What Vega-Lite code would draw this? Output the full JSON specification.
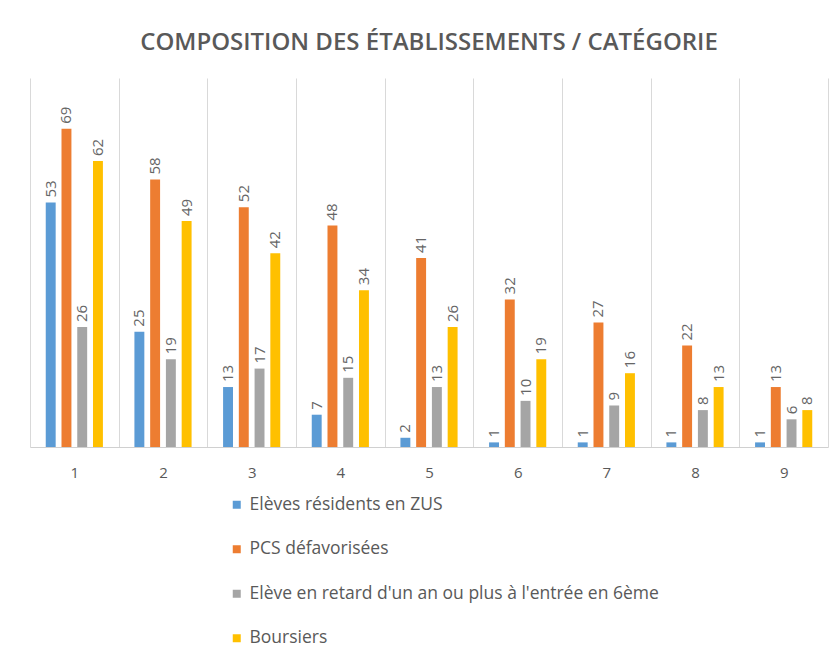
{
  "$schema": "https://vega.github.io/schema/vega-lite/v6.json",
  "autosize": {"type": "none"},
  "width": 798,
  "height": 369,
  "padding": {"left": 30, "top": 78, "right": 7, "bottom": 203},
  "background": "white",
  "title": {
    "text": "COMPOSITION DES ÉTABLISSEMENTS / CATÉGORIE",
    "font": "Open Sans",
    "fontSize": 24,
    "fontWeight": 600,
    "color": "#595959",
    "anchor": "middle",
    "offset": 23
  },
  "data": {
    "values": [
      {"cat": "1", "serie": "Elèves résidents en ZUS", "v": 53},
      {"cat": "1", "serie": "PCS défavorisées", "v": 69},
      {"cat": "1", "serie": "Elève en retard d'un an ou plus à l'entrée en 6ème", "v": 26},
      {"cat": "1", "serie": "Boursiers", "v": 62},
      {"cat": "2", "serie": "Elèves résidents en ZUS", "v": 25},
      {"cat": "2", "serie": "PCS défavorisées", "v": 58},
      {"cat": "2", "serie": "Elève en retard d'un an ou plus à l'entrée en 6ème", "v": 19},
      {"cat": "2", "serie": "Boursiers", "v": 49},
      {"cat": "3", "serie": "Elèves résidents en ZUS", "v": 13},
      {"cat": "3", "serie": "PCS défavorisées", "v": 52},
      {"cat": "3", "serie": "Elève en retard d'un an ou plus à l'entrée en 6ème", "v": 17},
      {"cat": "3", "serie": "Boursiers", "v": 42},
      {"cat": "4", "serie": "Elèves résidents en ZUS", "v": 7},
      {"cat": "4", "serie": "PCS défavorisées", "v": 48},
      {"cat": "4", "serie": "Elève en retard d'un an ou plus à l'entrée en 6ème", "v": 15},
      {"cat": "4", "serie": "Boursiers", "v": 34},
      {"cat": "5", "serie": "Elèves résidents en ZUS", "v": 2},
      {"cat": "5", "serie": "PCS défavorisées", "v": 41},
      {"cat": "5", "serie": "Elève en retard d'un an ou plus à l'entrée en 6ème", "v": 13},
      {"cat": "5", "serie": "Boursiers", "v": 26},
      {"cat": "6", "serie": "Elèves résidents en ZUS", "v": 1},
      {"cat": "6", "serie": "PCS défavorisées", "v": 32},
      {"cat": "6", "serie": "Elève en retard d'un an ou plus à l'entrée en 6ème", "v": 10},
      {"cat": "6", "serie": "Boursiers", "v": 19},
      {"cat": "7", "serie": "Elèves résidents en ZUS", "v": 1},
      {"cat": "7", "serie": "PCS défavorisées", "v": 27},
      {"cat": "7", "serie": "Elève en retard d'un an ou plus à l'entrée en 6ème", "v": 9},
      {"cat": "7", "serie": "Boursiers", "v": 16},
      {"cat": "8", "serie": "Elèves résidents en ZUS", "v": 1},
      {"cat": "8", "serie": "PCS défavorisées", "v": 22},
      {"cat": "8", "serie": "Elève en retard d'un an ou plus à l'entrée en 6ème", "v": 8},
      {"cat": "8", "serie": "Boursiers", "v": 13},
      {"cat": "9", "serie": "Elèves résidents en ZUS", "v": 1},
      {"cat": "9", "serie": "PCS défavorisées", "v": 13},
      {"cat": "9", "serie": "Elève en retard d'un an ou plus à l'entrée en 6ème", "v": 6},
      {"cat": "9", "serie": "Boursiers", "v": 8}
    ]
  },
  "encoding": {
    "x": {
      "field": "cat",
      "type": "nominal",
      "scale": {"paddingInner": 0, "paddingOuter": 0},
      "axis": {
        "title": null,
        "labelAngle": 0,
        "labelFont": "Open Sans",
        "labelFontSize": 15,
        "labelColor": "#595959",
        "labelPadding": 18,
        "ticks": false,
        "tickBand": "extent",
        "grid": true,
        "gridColor": "#d9d9d9",
        "gridWidth": 1,
        "domainColor": "#d0d0d0",
        "domainWidth": 1
      }
    },
    "xOffset": {
      "field": "serie",
      "type": "nominal",
      "sort": ["Elèves résidents en ZUS", "PCS défavorisées", "Elève en retard d'un an ou plus à l'entrée en 6ème", "Boursiers"],
      "scale": {"paddingInner": 0.37, "paddingOuter": 1.13}
    },
    "y": {
      "field": "v",
      "type": "quantitative",
      "scale": {"domain": [0, 80], "nice": false},
      "axis": null
    }
  },
  "layer": [
    {
      "mark": {"type": "bar"},
      "encoding": {
        "color": {
          "field": "serie",
          "type": "nominal",
          "sort": ["Elèves résidents en ZUS", "PCS défavorisées", "Elève en retard d'un an ou plus à l'entrée en 6ème", "Boursiers"],
          "scale": {
            "domain": ["Elèves résidents en ZUS", "PCS défavorisées", "Elève en retard d'un an ou plus à l'entrée en 6ème", "Boursiers"],
            "range": ["#5b9bd5", "#ed7d31", "#a5a5a5", "#ffc000"]
          },
          "legend": {
            "title": null,
            "orient": "none",
            "legendX": 198,
            "legendY": 418,
            "direction": "vertical",
            "symbolType": "square",
            "symbolSize": 64,
            "symbolStrokeWidth": 0,
            "labelFont": "Open Sans",
            "labelFontSize": 17.5,
            "labelColor": "#595959",
            "labelOffset": 4,
            "rowPadding": 25.5,
            "labelLimit": 600
          }
        }
      }
    },
    {
      "mark": {
        "type": "text",
        "angle": 270,
        "align": "left",
        "baseline": "middle",
        "dx": 5,
        "font": "Open Sans",
        "fontSize": 15,
        "color": "#666666"
      },
      "encoding": {
        "text": {"field": "v", "type": "quantitative"}
      }
    }
  ],
  "config": {
    "view": {"stroke": null}
  }
}
